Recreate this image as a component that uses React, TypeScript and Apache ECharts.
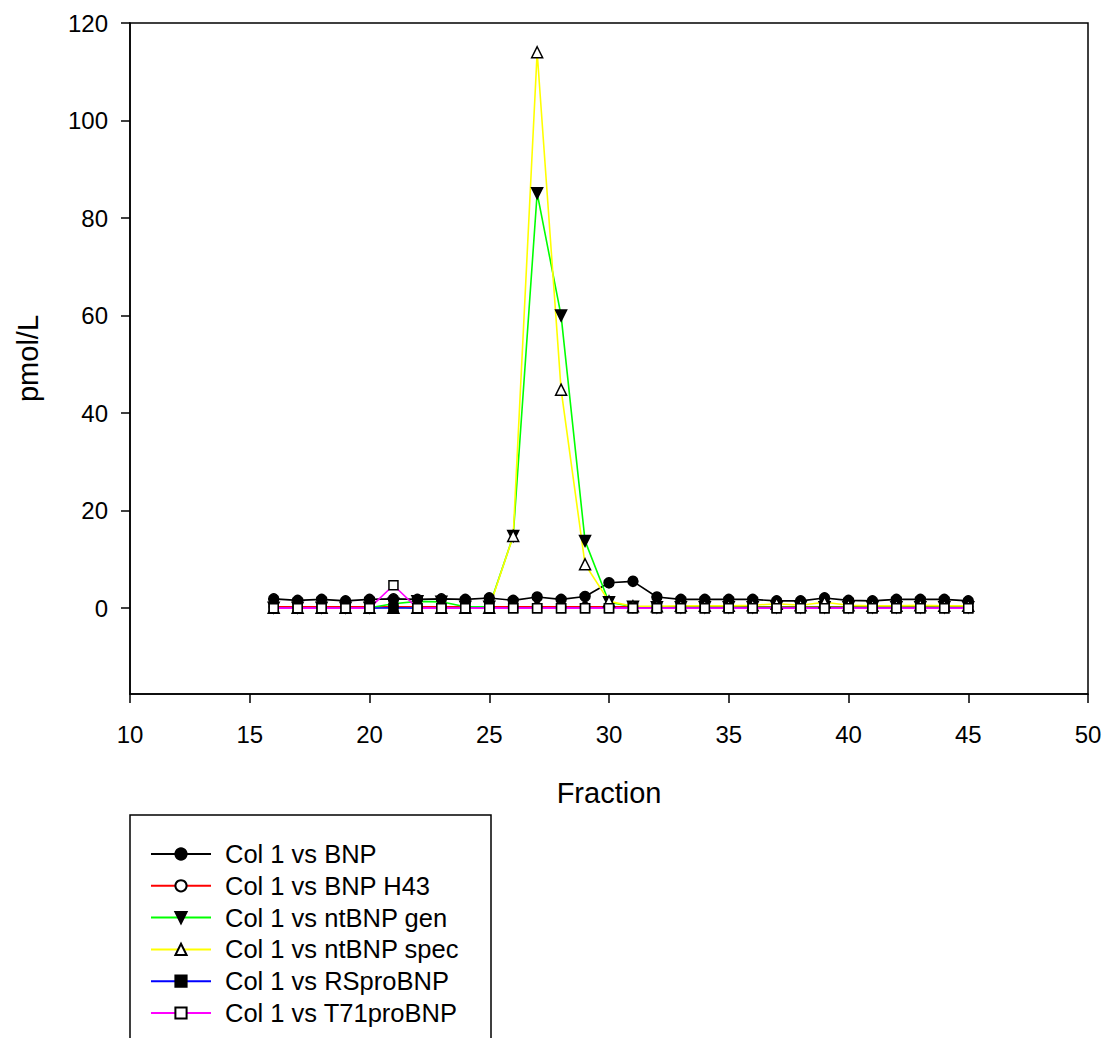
import React, { useEffect, useRef } from "react";
import * as echarts from "echarts";

const fractions = [16, 17, 18, 19, 20, 21, 22, 23, 24, 25, 26, 27, 28, 29, 30, 31, 32, 33, 34, 35, 36, 37, 38, 39, 40, 41, 42, 43, 44, 45];

const bnp = [1.9, 1.6, 1.8, 1.5, 1.8, 1.9, 1.8, 1.9, 1.8, 2.1, 1.6, 2.3, 1.8, 2.4, 5.2, 5.5, 2.3, 1.8, 1.8, 1.8, 1.8, 1.5, 1.5, 2.1, 1.6, 1.5, 1.8, 1.8, 1.8, 1.5];
const bnpH43 = [0.3, 0.3, 0.3, 0.3, 0.3, 0.3, 0.3, 0.3, 0.3, 0.3, 0.3, 0.3, 0.3, 0.3, 0.3, 0.3, 0.3, 0.3, 0.3, 0.3, 0.3, 0.3, 0.3, 0.3, 0.3, 0.3, 0.3, 0.3, 0.3, 0.3];
const ntBnpGen = [0.1, 0.1, 0.1, 0.1, 0.1, 0.9, 1.4, 1.3, 0.3, 0.3, 14.8, 85.1, 60.0, 13.8, 1.2, 0.3, 0.2, 0.2, 0.2, 0.2, 0.2, 0.2, 0.2, 0.2, 0.2, 0.2, 0.2, 0.2, 0.2, 0.2];
const ntBnpSpec = [0.1, 0.1, 0.1, 0.1, 0.1, 0.1, 0.1, 0.1, 0.1, 0.1, 14.8, 114.0, 44.8, 9.0, 1.4, 0.4, 0.4, 0.5, 0.5, 0.5, 0.6, 0.9, 0.6, 1.2, 0.6, 0.5, 0.5, 0.6, 0.5, 0.5];
const rsProBnp = [0, 0, 0, 0, 0, 0.1, 0, 0, 0, 0, 0, 0, 0, 0, 0, 0, 0, 0, 0, 0, 0, 0, 0, 0, 0, 0, 0, 0, 0, 0];
const t71ProBnp = [0, 0, 0, 0, 0, 4.7, 0, 0, 0, 0, 0, 0, 0, 0, 0, 0, 0, 0, 0, 0, 0, 0, 0, 0, 0, 0, 0, 0, 0, 0];

const yTicks = [0, 20, 40, 60, 80, 100, 120];
const seriesNames = ["Col 1 vs BNP", "Col 1 vs BNP H43", "Col 1 vs ntBNP gen", "Col 1 vs ntBNP spec", "Col 1 vs RSproBNP", "Col 1 vs T71proBNP"];

const FONT = "Liberation Sans, Arial, sans-serif";

function mk(
  name: string,
  values: number[],
  lineColor: string,
  symbol: string,
  size: number,
  fill: string,
  rotate = 0
) {
  return {
    name,
    type: "line",
    data: fractions.map((f, i) => [f, values[i]]),
    symbol,
    symbolSize: size,
    symbolRotate: rotate,
    showAllSymbol: true,
    lineStyle: { color: lineColor, width: 1.6 },
    itemStyle: { color: fill, borderColor: "#000", borderWidth: 1.5 },
    emphasis: { disabled: true },
  };
}

export default function App() {
  const ref = useRef<HTMLDivElement>(null);
  useEffect(() => {
    document.body.style.margin = "0";
    const chart = echarts.init(ref.current!, null, { renderer: "svg" });
    chart.setOption({
      animation: false,
      backgroundColor: "#fff",
      textStyle: { fontFamily: FONT },
      grid: {
        left: 130,
        right: 30,
        top: 23,
        bottom: 344,
        show: true,
        borderColor: "#000",
        borderWidth: 1.5,
      },
      xAxis: {
        type: "value",
        min: 10,
        max: 50,
        interval: 5,
        name: "Fraction",
        nameLocation: "middle",
        nameGap: 84,
        nameTextStyle: { fontSize: 29, color: "#000", fontFamily: FONT },
        axisLine: { onZero: false, lineStyle: { color: "#000", width: 1.5 } },
        axisTick: { length: 9, lineStyle: { color: "#000", width: 1.5 } },
        axisLabel: { fontSize: 24, color: "#000", margin: 28, fontFamily: FONT },
        splitLine: { show: false },
      },
      yAxis: {
        type: "value",
        min: -17.6,
        max: 120,
        name: "pmol/L",
        nameLocation: "middle",
        nameGap: 88,
        nameRotate: 90,
        nameTextStyle: { fontSize: 29, color: "#000", fontFamily: FONT },
        axisLine: { onZero: false, lineStyle: { color: "#000", width: 1.5 } },
        axisTick: { length: 9, customValues: yTicks, lineStyle: { color: "#000", width: 1.5 } },
        axisLabel: { fontSize: 24, color: "#000", margin: 22, customValues: yTicks, fontFamily: FONT },
        splitLine: { show: false },
      },
      legend: {
        orient: "vertical",
        left: 145,
        top: 836,
        itemWidth: 60,
        itemHeight: 14,
        itemGap: 5.8,
        selectedMode: false,
        data: seriesNames,
        textStyle: { fontSize: 25.5, color: "#000", lineHeight: 26, fontFamily: FONT, padding: [0, 0, 0, 9] },
      },
      graphic: [
        {
          type: "rect",
          shape: { x: 130, y: 815, width: 361, height: 300 },
          style: { fill: "none", stroke: "#000", lineWidth: 1.5 },
          silent: true,
        },
      ],
      series: [
        mk(seriesNames[0], bnp, "#000000", "circle", 10, "#000"),
        mk(seriesNames[1], bnpH43, "#ff0000", "circle", 9, "#fff"),
        mk(seriesNames[2], ntBnpGen, "#00ff00", "triangle", 11, "#000", 180),
        mk(seriesNames[3], ntBnpSpec, "#ffff00", "triangle", 11, "#fff"),
        mk(seriesNames[4], rsProBnp, "#0000ff", "rect", 9, "#000"),
        mk(seriesNames[5], t71ProBnp, "#ff00ff", "rect", 9, "#fff"),
      ],
    });
    return () => chart.dispose();
  }, []);
  return <div ref={ref} style={{ width: 1118, height: 1038 }} />;
}
